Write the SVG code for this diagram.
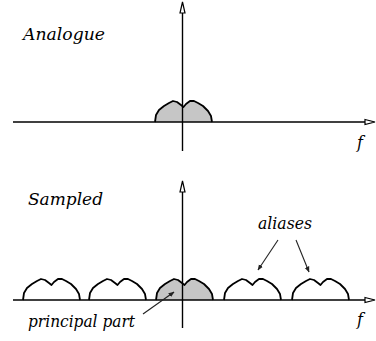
<svg xmlns="http://www.w3.org/2000/svg" xmlns:xlink="http://www.w3.org/1999/xlink" width="376" height="341" viewBox="0 0 376 341">
<style>
.lbl{font-family:'DejaVu Serif',serif;font-style:italic;font-size:16px;fill:#000}
.axis{stroke:#000;stroke-width:1.4;fill:none}
.hump{stroke:#000;stroke-width:1.8;fill:none;stroke-linejoin:round}
.grey{fill:#c6c6c6}
.ptr{stroke:#222;stroke-width:1.1;fill:none}
.head{fill:#fff;stroke:#000;stroke-width:1.2}
</style>
<defs>
<path id="hump" d="M0,0 L1,-7 L4,-12 L9,-16 L14,-19 L18,-21 L22,-20 L26,-17 L28.5,-15 L31,-18 L35,-21 L39,-21 L43,-19 L48,-16 L53,-11 L56,-6 L57,0"/>
<marker id="fa" viewBox="0 0 10 10" refX="9" refY="5" markerWidth="6" markerHeight="6" orient="auto" markerUnits="userSpaceOnUse">
<path d="M0,1 L10,5 L0,9 z" fill="#222"/>
</marker>
</defs>
<g id="analogue-label"><text class="lbl" x="23" y="40" textLength="82" lengthAdjust="spacingAndGlyphs">Analogue</text></g>
<g id="analogue-spectrum"><use xlink:href="#hump" href="#hump" class="hump grey" transform="translate(155,122)"/></g>
<g id="analogue-axes">
<line class="axis" x1="13" y1="122" x2="366" y2="122"/>
<path class="head" d="M365,119.5 L375,122 L365,124.5 z"/>
<line class="axis" x1="182.5" y1="151" x2="182.5" y2="12"/>
<path class="head" d="M180,13 L182.5,2 L185,13 z"/>
<text class="lbl" x="357" y="148">f</text>
</g>
<g id="sampled-label"><text class="lbl" x="28" y="205" textLength="75" lengthAdjust="spacingAndGlyphs">Sampled</text></g>
<g id="sampled-spectrum">
<use xlink:href="#hump" href="#hump" class="hump" transform="translate(23,300)"/>
<use xlink:href="#hump" href="#hump" class="hump" transform="translate(89,300)"/>
<use xlink:href="#hump" href="#hump" class="hump grey" transform="translate(156,300)"/>
<use xlink:href="#hump" href="#hump" class="hump" transform="translate(224,300)"/>
<use xlink:href="#hump" href="#hump" class="hump" transform="translate(292,300)"/>
</g>
<g id="sampled-axes">
<line class="axis" x1="13" y1="300" x2="366" y2="300"/>
<path class="head" d="M365,297.5 L375,300 L365,302.5 z"/>
<line class="axis" x1="182.5" y1="328" x2="182.5" y2="191"/>
<path class="head" d="M180,192 L182.5,181 L185,192 z"/>
<text class="lbl" x="357" y="325">f</text>
</g>
<g id="aliases"><text class="lbl" x="258" y="229" textLength="54" lengthAdjust="spacingAndGlyphs">aliases</text></g>
<g id="principal-part"><text class="lbl" x="28" y="327" textLength="107" lengthAdjust="spacingAndGlyphs">principal part</text></g>
<g id="connectors">
<line class="ptr" x1="278" y1="240" x2="258" y2="270" marker-end="url(#fa)"/>
<line class="ptr" x1="296" y1="240" x2="309" y2="272" marker-end="url(#fa)"/>
<line class="ptr" x1="143" y1="314" x2="174" y2="292" marker-end="url(#fa)"/>
</g>
</svg>
